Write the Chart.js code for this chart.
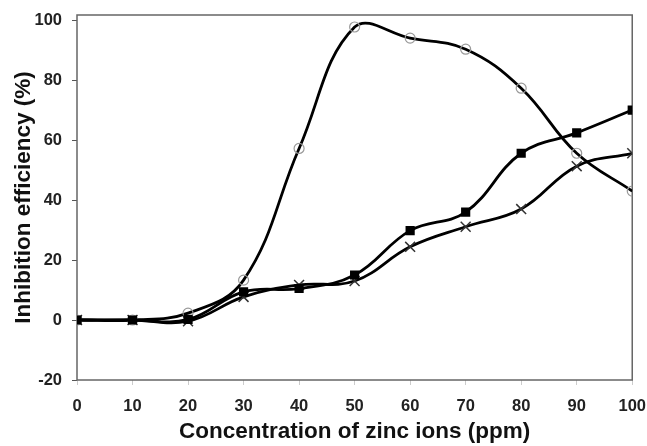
<!DOCTYPE html>
<html>
<head>
<meta charset="utf-8">
<script src="https://cdn.jsdelivr.net/npm/chart.js@4"></script>
<style>
  html, body { margin: 0; padding: 0; background: #fff; overflow: hidden; }
</style>
</head>
<body>
<canvas id="chart" width="658" height="446"></canvas>
<script>
// zinc concentration (ppm)
const concentration = [0, 10, 20, 30, 40, 50, 60, 70, 80, 90, 100];

// inhibition efficiency (%) for each series
const circleSeries = [0, 0, 2.3, 13.3, 57.2, 97.7, 94, 90.3, 77.3, 55.6, 43];
const squareSeries = [0, 0, 0.2, 9.4, 10.5, 15, 29.8, 36, 55.6, 62.4, 70];
const crossSeries = [0, 0, -0.4, 7.7, 11.7, 13, 24.4, 31.1, 37, 51.3, 55.6];

const yTicks = [-20, 0, 20, 40, 60, 80, 100];
const xTicks = [0, 10, 20, 30, 40, 50, 60, 70, 80, 90, 100];

function toPoints(values) {
    return concentration.map((c, i) => ({ x: c, y: values[i] }));
}

// draw the box around the plot area
const frame = {
    id: 'frame',
    beforeDatasetsDraw(chart) {
        const a = chart.chartArea;
        const ctx = chart.ctx;
        ctx.save();
        ctx.strokeStyle = '#666';
        ctx.lineWidth = 1.5;
        ctx.strokeRect(a.left, a.top, a.right - a.left, a.bottom - a.top);
        ctx.restore();
    }
};

const tickFont = { family: 'Liberation Sans', size: 16.5, weight: 'bold', lineHeight: 1.2 };
const titleFont = { family: 'Liberation Sans', size: 22.5, weight: 'bold', lineHeight: 1 };

new Chart(document.getElementById('chart').getContext('2d'), {
    type: 'line',
    data: {
        datasets: [
            {
                label: 'squares',
                data: toPoints(squareSeries),
                borderColor: '#000',
                borderWidth: 2.8,
                tension: 0.4,
                pointStyle: 'rect',
                pointRadius: 6.5,
                pointBorderWidth: 0,
                pointBackgroundColor: '#000'
            },
            {
                label: 'crosses',
                data: toPoints(crossSeries),
                borderColor: '#000',
                borderWidth: 2.8,
                tension: 0.4,
                pointStyle: 'crossRot',
                pointRadius: 7,
                pointBorderWidth: 1.5,
                pointBorderColor: '#333'
            },
            {
                label: 'circles',
                data: toPoints(circleSeries),
                borderColor: '#000',
                borderWidth: 2.8,
                tension: 0.4,
                pointStyle: 'circle',
                pointRadius: 5,
                pointBorderWidth: 1.2,
                pointBorderColor: '#999',
                pointBackgroundColor: 'rgba(255,255,255,0)'
            }
        ]
    },
    options: {
        responsive: false,
        animation: false,
        layout: { padding: { top: 15, left: 0, right: 0, bottom: 0 } },
        plugins: {
            legend: { display: false },
            tooltip: { enabled: false }
        },
        scales: {
            x: {
                type: 'linear',
                min: 0,
                max: 100,
                afterBuildTicks: (axis) => { axis.ticks = xTicks.map(v => ({ value: v })); },
                afterFit: (axis) => { axis.height = 66; },
                grid: { drawOnChartArea: false, tickLength: 5, tickColor: '#ccc' },
                border: { display: false },
                ticks: { color: '#222', font: tickFont, padding: 12, maxRotation: 0 },
                title: { display: true, text: 'Concentration of zinc ions (ppm)', color: '#111', font: titleFont, padding: { top: 0, bottom: 2.5 } }
            },
            y: {
                type: 'linear',
                min: -20,
                max: 101.7,
                afterBuildTicks: (axis) => { axis.ticks = yTicks.map(v => ({ value: v })); },
                afterFit: (axis) => {
                    axis.width = 77;
                    axis.paddingTop = 0;
                    axis.paddingBottom = 0;
                },
                grid: { drawOnChartArea: false, tickLength: 5, tickColor: '#555' },
                border: { display: false },
                ticks: { color: '#222', font: tickFont, padding: 10 },
                title: { display: true, text: 'Inhibition efficiency (%)', color: '#111', font: titleFont, padding: { top: 13, bottom: 0 } }
            }
        }
    },
    plugins: [frame]
});
</script>
</body>
</html>
